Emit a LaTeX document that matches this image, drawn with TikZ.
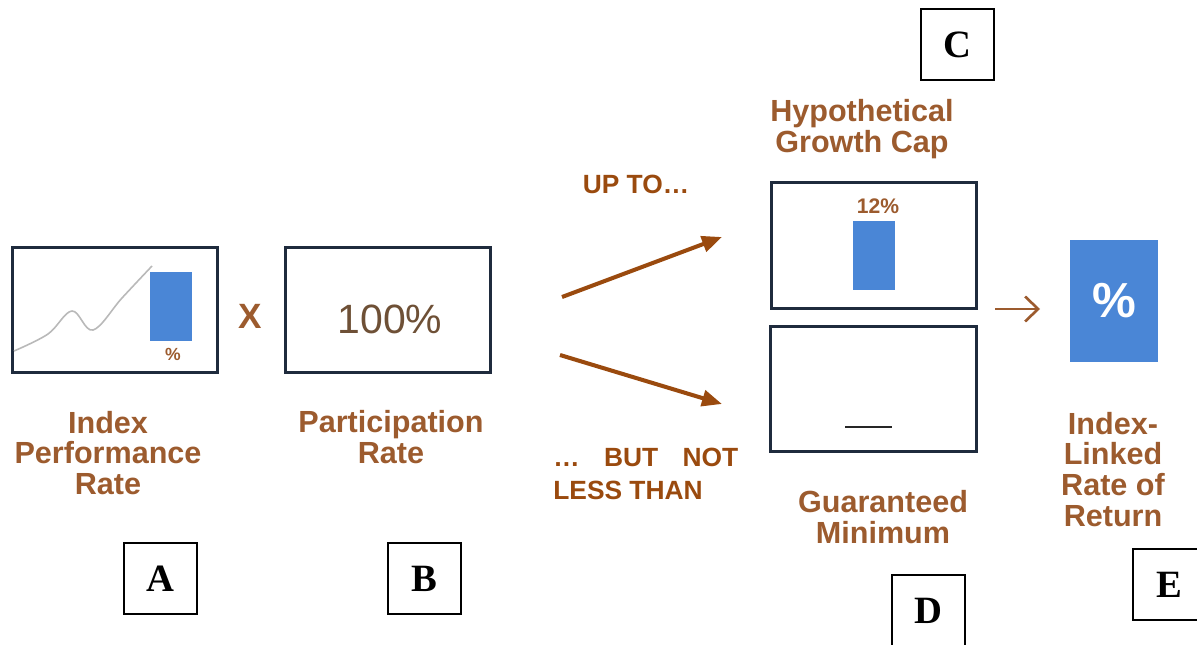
\documentclass[tikz,border=0pt]{standalone}
\usepackage{fontspec}
\setmainfont{Liberation Serif}
\setsansfont{Liberation Sans}
\usepackage{tikz}
\usetikzlibrary{arrows.meta,calc}

\definecolor{capbrown}{HTML}{9C5B2E}
\definecolor{arrowbrown}{HTML}{9A4A0E}
\definecolor{framenavy}{HTML}{1F2B3D}
\definecolor{barblue}{HTML}{4A86D6}
\definecolor{numbrown}{HTML}{6E5036}

\begin{document}
\begin{tikzpicture}[
    x=0.02cm, y=-0.02cm,
    frame/.style={rectangle, draw=framenavy, line width=1.7pt, fill=white, minimum width=4.12cm, minimum height=2.52cm, inner sep=0pt},
    letterbox/.style={rectangle, draw=black, line width=0.8pt, minimum width=1.46cm, minimum height=1.42cm, inner sep=0pt, font=\fontsize{22}{24}\selectfont\bfseries},
    bluebar/.style={rectangle, fill=barblue, minimum width=0.84cm, minimum height=1.38cm, inner sep=0pt},
    caption/.style={align=center, text=capbrown, font=\sffamily\bfseries\fontsize{17.4}{17.6}\selectfont},
    note/.style={align=left, text=arrowbrown, font=\sffamily\bfseries\fontsize{15}{16}\selectfont},
    arrow/.style={-{Triangle[length=0.4cm,width=0.32cm]}, line width=2.3pt, arrowbrown}
]
    \useasboundingbox (0,0) rectangle (1197,645);

    % Index performance (left)
    \node[frame] (perf) at (115,310) {};
    \draw[gray!55, line width=0.9pt] plot[smooth, tension=0.6] coordinates {(14,351) (48,334) (72,311) (93,330) (122,298) (152,266)};
    \node[bluebar] (perfbar) at (171,306.5) {};
    \node[text=capbrown, font=\sffamily\bfseries\fontsize{10}{10}\selectfont, inner sep=0pt] (perfpct) at (173,354) {\%};
    \node[caption] (perftxt) at (108,453) {Index\\Performance\\Rate};

    % Times sign and participation rate
    \node[text=capbrown, font=\sffamily\bfseries\fontsize{20}{20}\selectfont] (times) at (250,316) {X};
    \node[frame] (part) at (388,310) {};
    \node[text=numbrown, font=\sffamily\fontsize{23.3}{24}\selectfont] (parttxt) at (390,319) {100\%};
    \node[caption] (partlbl) at (391,437.5) {Participation\\Rate};

    % Up to / but not less than
    \node[note] (upto) at (636,184) {UP TO…};
    \coordinate (forkup) at (562,297);
    \coordinate (tipup) at (722,237);
    \coordinate (forkdown) at (560,355);
    \coordinate (tipdown) at (722,404);
    \draw[arrow] (forkup) -- (tipup);
    \draw[arrow] (forkdown) -- (tipdown);
    \node[note, anchor=west, inner sep=0pt] (butnot) at (553,474) {\makebox[3.7cm][s]{…\hfill BUT\hfill NOT}\\[3pt]LESS THAN};

    % Growth cap and guaranteed minimum
    \node[caption] (captxt) at (862,129.5) {Hypothetical\\Growth Cap};
    \node[frame] (cap) at (874,245.5) {};
    \node[text=capbrown, font=\sffamily\bfseries\fontsize{12}{12}\selectfont, inner sep=0pt] (cappct) at (878,206) {12\%};
    \node[bluebar] (capbar) at (874,255.5) {};
    \node[frame] (floor) at (873.5,389) {};
    \coordinate (dashl) at (845,427);
    \coordinate (dashr) at (892,427);
    \draw[black!85, line width=1.6pt] (dashl) -- (dashr);
    \node[caption] (floortxt) at (883,517) {Guaranteed\\Minimum};

    % Result
    \coordinate (resfrom) at (995,309);
    \coordinate (resto) at (1040,309);
    \draw[-{Straight Barb[length=0.26cm,width=0.5cm]}, capbrown, line width=1.5pt] (resfrom) -- (resto);
    \node[rectangle, fill=barblue, minimum width=1.76cm, minimum height=2.44cm, inner sep=0pt] (result) at (1114,301) {};
    \node[text=white, font=\sffamily\bfseries\fontsize{28}{28}\selectfont] (respct) at (result) {\%};
    \node[caption] (restxt) at (1113,469.5) {Index-\\Linked\\Rate of\\Return};

    % Letter boxes
    \node[letterbox] (la) at (160.5,578.5) {A};
    \node[letterbox] (lb) at (424.5,578.5) {B};
    \node[letterbox] (lc) at (957.5,44.5) {C};
    \node[letterbox] (ld) at (928.5,610.5) {D};
    \node[letterbox] (le) at (1169.5,584.5) {E};
\end{tikzpicture}
\end{document}
